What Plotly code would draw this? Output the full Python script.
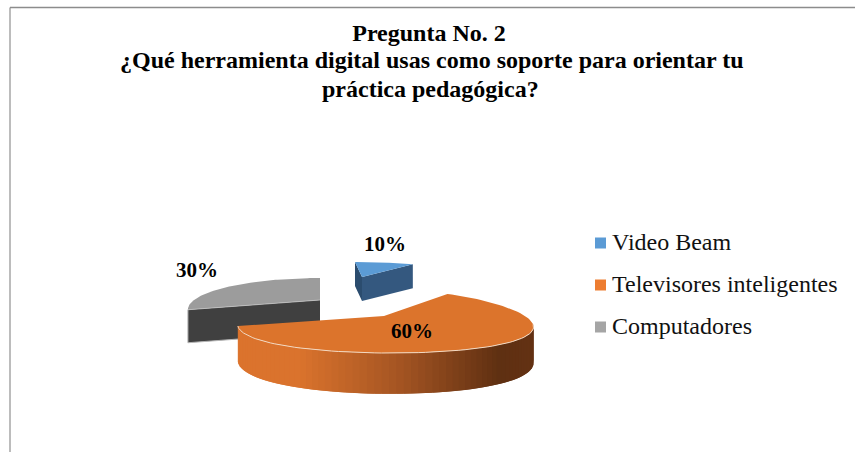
import numpy as np
import plotly.graph_objects as go

# ---- data ----
categories = ["Video Beam", "Televisores inteligentes", "Computadores"]
values = [10, 60, 30]
title_lines = ["Pregunta No. 2",
               "¿Qué herramienta digital usas como soporte para orientar tu",
               "práctica pedagógica?"]

# ---- style ----
SERIF = "Liberation Serif"
legend_colors = ["#5B9BD5", "#ED7D31", "#A5A5A5"]
top_colors = ["#5B9BD5", "#DC742C", "#9C9C9C"]
# per wedge projection: apex x, apex y, radius, squash, perspective (x, y), skew, depth
proj = [
    dict(ax=362, ay=277, R=120, Rk=19.5, p=0.3, py=0.3, s=-9.1, H=24),
    dict(ax=384, ay=316, R=141, Rk=30.9, p=0.3, py=0.166, s=-5.0, H=34),
    dict(ax=320, ay=300, R=126, Rk=28.6, p=0.3, py=0.3, s=0.0, H=33),
]
label_pos = [(385, 246), (412, 333), (197, 272)]
key_x, name_x, legend_y = 600.5, 612, [243, 285, 327]
title_x = [429, 432, 430]
title_y = [33, 60, 89]
grad_x = [240, 300, 400, 500, 535]
grad_r = [220, 218, 165, 95, 100]
grad_g = [116, 115, 85, 48, 50]
grad_b = [45, 45, 35, 18, 20]

fig = go.Figure()


def project(P, theta):
    u, v = np.sin(theta), np.cos(theta)
    D = 1 + P["p"] * v
    return P["ax"] + (P["R"] * u + P["s"] * v) / D, P["ay"] - P["Rk"] * v / (1 + P["py"] * v)


def poly(xs, ys, color):
    fig.add_trace(go.Scatter(x=list(xs), y=list(ys), mode="lines", fill="toself",
                             fillcolor=color, line=dict(width=0),
                             hoverinfo="skip", showlegend=False))


def stroke(xs, ys, color, width=1):
    fig.add_trace(go.Scatter(x=list(xs), y=list(ys), mode="lines", line=dict(color=color, width=width),
                             hoverinfo="skip", showlegend=False))


# wedge angles come from the values
total = sum(values)
edges = np.radians(np.cumsum([0] + values) * 360.0 / total)
arcs = [np.linspace(edges[i], edges[i + 1], 90) for i in range(len(values))]

# grey wedge
P = proj[2]
x, y = project(P, arcs[2])
xa, ya = P["ax"], P["ay"]
poly([xa, x[0], x[0], xa], [ya, y[0], y[0] + P["H"], ya + P["H"]], "#404040")
stroke([x[0], x[0], xa], [y[0], y[0] + P["H"], ya + P["H"]], "#B5B5B5", 1)
poly(np.r_[xa, x], np.r_[ya, y], top_colors[2])
stroke([xa, x[0]], [ya, y[0]], "#C4C4C4", 0.8)

# blue wedge
P = proj[0]
x, y = project(P, arcs[0])
xa, ya = P["ax"], P["ay"]
poly([xa, x[0], x[0], xa], [ya, y[0], y[0] + P["H"], ya + P["H"]], "#2B4C6E")
poly([xa, x[-1], x[-1], xa], [ya, y[-1], y[-1] + P["H"], ya + P["H"]], "#34587F")
poly(np.r_[xa, x], np.r_[ya, y], top_colors[0])

# orange wedge: shaded outer wall in overlapping strips, then top
P = proj[1]
xa, ya = P["ax"], P["ay"]
wall = np.linspace(np.radians(105), edges[2], 71)
xw, yw = project(P, wall)
yb = yw + P["H"] / (1 + P["py"] * np.cos(wall))
for i in range(len(wall) - 1):
    mx = (xw[i] + xw[i + 1]) / 2
    c = "rgb(%d,%d,%d)" % (np.interp(mx, grad_x, grad_r), np.interp(mx, grad_x, grad_g), np.interp(mx, grad_x, grad_b))
    j = min(i + 2, len(wall) - 1)
    poly([xw[i], xw[j], xw[j], xw[i]], [yw[i], yw[j], yb[j], yb[i]], c)
x, y = project(P, arcs[1])
poly(np.r_[xa, x], np.r_[ya, y], top_colors[1])
stroke(xw, yw, "#F3D9C2", 1)

# percent labels
fig.add_trace(go.Scatter(x=[p[0] for p in label_pos], y=[p[1] for p in label_pos], mode="text",
                         text=["%d%%" % v for v in values],
                         textfont=dict(family=SERIF, size=21, color="black", weight="bold"),
                         hoverinfo="skip", showlegend=False))

# legend keys and names
for i, name in enumerate(categories):
    fig.add_trace(go.Scatter(x=[key_x], y=[legend_y[i]], mode="markers", name=name,
                             marker=dict(symbol="square", size=11, color=legend_colors[i]),
                             hoverinfo="skip", showlegend=False))
    fig.add_trace(go.Scatter(x=[name_x], y=[legend_y[i] + 1], mode="text", name=name,
                             text=[name], textposition="middle right",
                             textfont=dict(family=SERIF, size=24, color="#111111"),
                             hoverinfo="skip", showlegend=False))

fig.update_layout(
    width=855, height=452, margin=dict(l=0, r=0, t=0, b=0),
    paper_bgcolor="white", plot_bgcolor="white", showlegend=False,
    title=dict(text="<b>" + title_lines[0] + "</b>", x=title_x[0] / 855, xanchor="center",
               y=1 - title_y[0] / 452, yanchor="middle",
               font=dict(family=SERIF, size=24, color="black")),
    annotations=[dict(text="<b>" + t + "</b>", xref="x", yref="y", x=xx, y=yy, showarrow=False,
                      xanchor="center", yanchor="middle", font=dict(family=SERIF, size=24, color="black"))
                 for t, xx, yy in zip(title_lines[1:], title_x[1:], title_y[1:])],
    xaxis=dict(range=[0, 855], visible=False, fixedrange=True),
    yaxis=dict(range=[452, 0], visible=False, fixedrange=True),
    shapes=[
        dict(type="line", xref="x", yref="y", x0=10, x1=10, y0=7.5, y1=452, line=dict(color="#A6A6A6", width=1.5)),
        dict(type="line", xref="x", yref="y", x0=10, x1=855, y0=7.5, y1=7.5, line=dict(color="#8C8C8C", width=1.5)),
    ],
)
fig.write_html("out.html", config={"displayModeBar": False},
               post_script="document.body.style.margin='0';")
